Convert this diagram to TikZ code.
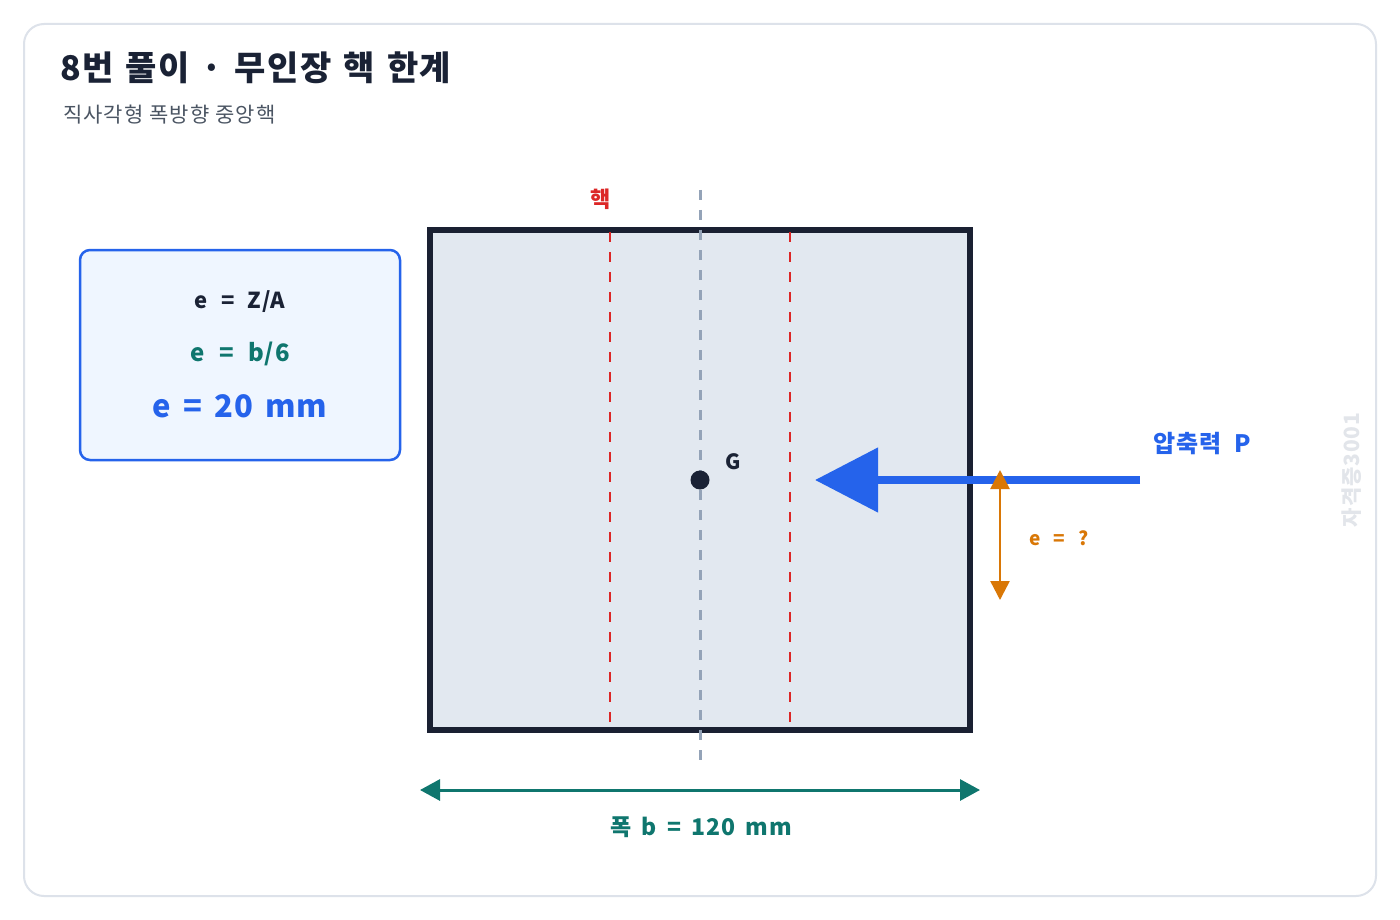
\documentclass[tikz,border=0pt]{standalone}
\usepackage{fontspec}
\setmainfont{Noto Sans CJK KR}
\usetikzlibrary{arrows.meta}
\definecolor{navy}{HTML}{1A2235}
\definecolor{frame}{HTML}{DDE2EA}
\definecolor{subgray}{HTML}{4B5563}
\definecolor{secfill}{HTML}{E2E8F0}
\definecolor{secline}{HTML}{1A2032}
\definecolor{axisgray}{HTML}{94A3B8}
\definecolor{kred}{HTML}{DC2626}
\definecolor{pblue}{HTML}{2563EB}
\definecolor{eorange}{HTML}{D97706}
\definecolor{dteal}{HTML}{0F766E}
\definecolor{boxfill}{HTML}{EFF6FF}
\definecolor{wmark}{HTML}{E2E5EA}
\newcommand{\spcg}[2]{\addfontfeatures{LetterSpace=#1}\spaceskip=#2em\relax}
\tikzset{
  lbl/.style={inner sep=0pt, font=\bfseries},
  kernline/.style={draw=kred, line width=2.5pt, dash pattern=on 10pt off 10pt},
  axisline/.style={draw=axisgray, line width=3pt, dash pattern=on 10pt off 10pt},
}
\begin{document}
\begin{tikzpicture}[x=1pt,y=-1pt]
\useasboundingbox (0,0) rectangle (1400,920);
\fill[white] (0,0) rectangle (1400,920);
% outer frame
\draw[frame, line width=2pt, rounded corners=20pt] (24,24) rectangle (1376,896);
% title
\node[lbl, anchor=west, text=navy, font=\bfseries\fontsize{34}{38}\selectfont\spcg{4}{0.36}] (title) at (60,68) {8번 풀이 · 무인장 핵 한계};
\node[inner sep=0pt, anchor=west, text=subgray, font=\fontsize{21}{24}\selectfont\spcg{5}{0.28}] (subtitle) at (63,115) {직사각형 폭방향 중앙핵};
% section
\draw[fill=secfill, draw=secline, line width=6pt] (430,230) rectangle (970,730);
\node[inner sep=0pt] (sec) at (700,480) {};
% kern lines
\coordinate (k1t) at (610,232); \coordinate (k1b) at (610,722);
\coordinate (k2t) at (790,232); \coordinate (k2b) at (790,722);
\draw[kernline] (k1t) -- (k1b);
\draw[kernline] (k2t) -- (k2b);
% axis
\coordinate (axt) at (700,190); \coordinate (axb) at (700,762);
\draw[axisline] (axt) -- (axb);
\node[lbl, text=kred, font=\bfseries\fontsize{22}{24}\selectfont] (kern) at (601,199) {핵};
% centroid
\fill[navy] (700,480) circle (9.5pt);
\node[lbl, text=navy, font=\bfseries\fontsize{21}{24}\selectfont] (G) at (733,462) {G};
% load arrow
\coordinate (ps) at (1140,480); \coordinate (pe) at (815,480);
\draw[pblue, line width=8pt, -{Triangle[length=63pt, width=63pt]}] (ps) -- (pe);
\node[lbl, text=pblue, font=\bfseries\fontsize{24}{26}\selectfont\spcg{4}{0.55}] (P) at (1202,444) {압축력 P};
% eccentricity arrow
\coordinate (et) at (1000,470); \coordinate (eb) at (1000,600);
\draw[eorange, line width=2.5pt, {Triangle[length=19pt, width=19pt]}-{Triangle[length=19pt, width=19pt]}] (et) -- (eb);
\node[lbl, text=eorange, font=\bfseries\fontsize{19}{22}\selectfont\spcg{5}{0.7}] (eq) at (1059,538) {e = ?};
% watermark
\node[lbl, text=wmark, rotate=90, font=\bfseries\fontsize{21}{24}\selectfont\spcg{4}{0.25}] (wm) at (1352,470) {자격증3001};
% width dimension
\coordinate (wl) at (420,790); \coordinate (wr) at (980,790);
\draw[dteal, line width=3pt, {Triangle[length=20pt, width=21pt]}-{Triangle[length=20pt, width=21pt]}] (wl) -- (wr);
\node[lbl, text=dteal, font=\bfseries\fontsize{23}{26}\selectfont\spcg{4}{0.45}] (wlab) at (701,827) {폭 b = 120 mm};
% formula box
\draw[fill=boxfill, draw=pblue, line width=2.5pt, rounded corners=10pt] (80,250) rectangle (400,460);
\node[inner sep=0pt] (box) at (240,355) {};
\node[lbl, text=navy, font=\bfseries\fontsize{22}{24}\selectfont\spcg{4}{0.6}] (f1) at (240,302) {e = Z/A};
\node[lbl, text=dteal, font=\bfseries\fontsize{24}{26}\selectfont\spcg{4}{0.6}] (f2) at (240,354) {e = b/6};
\node[lbl, text=pblue, font=\bfseries\fontsize{31}{34}\selectfont\spcg{2}{0.4}] (f3) at (240,406) {e = 20 mm};
\end{tikzpicture}
\end{document}
